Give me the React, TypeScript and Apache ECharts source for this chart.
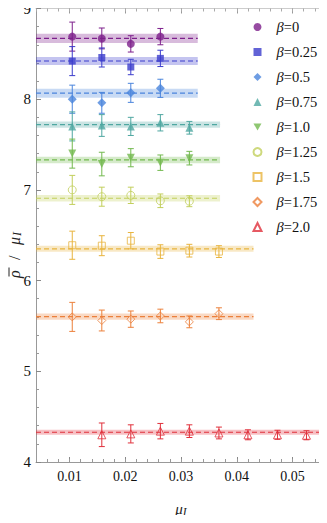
import React, { useEffect, useRef } from "react";
import * as echarts from "echarts";

// x positions (mu_I)
const muI = [0.0105, 0.0158, 0.021, 0.0263, 0.0315, 0.0368, 0.042, 0.0473, 0.0525];

const betaNames = ["β=0", "β=0.25", "β=0.5", "β=0.75", "β=1.0", "β=1.25", "β=1.5", "β=1.75", "β=2.0"];
const colors = ["#7d1f8b", "#3b3ccc", "#4a84dc", "#4fa7a1", "#73b94f", "#c2cf5c", "#e8b43e", "#ec803b", "#e0303b"];

// first mu index of each series
const startIdx = [0, 0, 0, 0, 0, 0, 0, 0, 1];

const rho0 = [8.69, 8.67, 8.61, 8.69];
const err0 = [0.16, 0.115, 0.09, 0.09];
const rho025 = [8.42, 8.46, 8.355, 8.45];
const err025 = [0.16, 0.105, 0.085, 0.09];
const rho05 = [8.0, 7.96, 8.07, 8.12];
const err05 = [0.155, 0.115, 0.105, 0.1];
const rho075 = [7.7, 7.71, 7.7, 7.74, 7.685];
const err075 = [0.16, 0.12, 0.1, 0.09, 0.07];
const rho10 = [7.4, 7.285, 7.355, 7.3, 7.35];
const err10 = [0.16, 0.13, 0.1, 0.085, 0.075];
const rho125 = [7.0, 6.925, 6.94, 6.88, 6.875];
const err125 = [0.16, 0.105, 0.09, 0.075, 0.06];
const rho15 = [6.39, 6.385, 6.44, 6.32, 6.33, 6.32];
const err15 = [0.155, 0.11, 0.09, 0.075, 0.07, 0.065];
const rho175 = [5.6, 5.56, 5.575, 5.61, 5.545, 5.635];
const err175 = [0.16, 0.115, 0.09, 0.075, 0.065, 0.065];
const rho20 = [4.3, 4.31, 4.34, 4.34, 4.32, 4.3, 4.3, 4.295];
const err20 = [0.13, 0.1, 0.085, 0.07, 0.065, 0.055, 0.05, 0.05];

const rhoAll = [rho0, rho025, rho05, rho075, rho10, rho125, rho15, rho175, rho20];
const errAll = [err0, err025, err05, err075, err10, err125, err15, err175, err20];

// fits
const fitValues = [8.671, 8.421, 8.066, 7.72, 7.33, 6.908, 6.35, 5.602, 4.328];
const fitErrors = [0.05, 0.045, 0.05, 0.035, 0.035, 0.035, 0.033, 0.035, 0.027];
const fitEnds = [0.033, 0.033, 0.033, 0.037, 0.037, 0.037, 0.043, 0.043, 0.056];

const xMin = 0.004;
const xMax = 0.056;
const xMajor = [0.01, 0.02, 0.03, 0.04, 0.05];

const symbols = ["circle", "rect", "diamond", "triangle", "path://M0,0 L10,0 L5,9 Z", "circle", "rect", "diamond", "triangle"];
const filled = [true, true, true, true, true, false, false, false, false];
const sizes = [8, 7, 9, 8, 8, 8, 7, 8, 8];

const FONT = "'Liberation Serif', 'Times New Roman', serif";

export default function App() {
  const ref = useRef<HTMLDivElement>(null);
  useEffect(() => {
    if (!ref.current) return;
    const chart = echarts.init(ref.current, undefined, { renderer: "svg" });

    const series: any[] = [];

    // bands + fit lines
    series.push({
      type: "custom",
      name: "fits",
      silent: true,
      z: 1,
      data: fitValues.map((v, i) => [xMin, fitEnds[i], v, fitErrors[i], i]),
      renderItem: (params: any, api: any) => {
        const x0 = api.value(0);
        const x1 = api.value(1);
        const v = api.value(2);
        const w = api.value(3);
        const idx = api.value(4);
        const p1 = api.coord([x0, v + w]);
        const p2 = api.coord([x1, v - w]);
        const pl = api.coord([x0, v]);
        const pr = api.coord([x1, v]);
        return {
          type: "group",
          children: [
            {
              type: "rect",
              shape: { x: p1[0], y: p1[1], width: p2[0] - p1[0], height: p2[1] - p1[1] },
              style: { fill: colors[idx], opacity: 0.3 },
            },
            {
              type: "line",
              shape: { x1: pl[0], y1: pl[1], x2: pr[0], y2: pr[1] },
              style: { stroke: colors[idx], lineWidth: 1.2, lineDash: [5, 3] },
            },
          ],
        };
      },
    });

    rhoAll.forEach((ys, si) => {
      const data = ys.map((y, k) => [muI[startIdx[si] + k], y, errAll[si][k]]);
      series.push({
        type: "custom",
        name: "err" + si,
        silent: true,
        z: 2,
        data,
        renderItem: (params: any, api: any) => {
          const x = api.value(0);
          const y = api.value(1);
          const e = api.value(2);
          const t = api.coord([x, y + e]);
          const b = api.coord([x, y - e]);
          const c = 3;
          const st = { stroke: colors[si], lineWidth: 1 };
          return {
            type: "group",
            children: [
              { type: "line", shape: { x1: t[0], y1: t[1], x2: b[0], y2: b[1] }, style: st },
              { type: "line", shape: { x1: t[0] - c, y1: t[1], x2: t[0] + c, y2: t[1] }, style: st },
              { type: "line", shape: { x1: b[0] - c, y1: b[1], x2: b[0] + c, y2: b[1] }, style: st },
            ],
          };
        },
      });
      series.push({
        type: "scatter",
        name: betaNames[si],
        z: 3,
        symbol: symbols[si],
        symbolSize: sizes[si],
        data: ys.map((y, k) => [muI[startIdx[si] + k], y]),
        itemStyle: filled[si]
          ? { color: colors[si] }
          : { color: "none", borderColor: colors[si], borderWidth: 1 },
      });
    });

    const noSplit = { splitLine: { show: false } };
    const ink = "#222";

    const option: any = {
      animation: false,
      grid: { left: 36, top: 8.5, right: 1, bottom: 46.3, containLabel: false },
      legend: {
        orient: "vertical",
        left: 246,
        top: 14,
        itemWidth: 8,
        itemHeight: 8,
        itemGap: 9,
        data: betaNames,
        formatter: (name: string) => `{b|β}{t|${name.slice(1)}}`,
        textStyle: {
          padding: [0, 0, 0, 10],
          lineHeight: 16,
          rich: {
            b: { fontFamily: FONT, fontStyle: "italic", fontSize: 14.5, lineHeight: 16, color: "#111" },
            t: { fontFamily: FONT, fontSize: 14.5, lineHeight: 16, color: "#111" },
          },
        },
      },
      graphic: [
        {
          type: "group",
          x: 14,
          y: 278,
          rotation: Math.PI / 2,
          silent: true,
          children: [
            { type: "text", x: 0, y: -8, style: { text: "ρ", font: `italic 16px ${FONT}`, fill: ink } },
            { type: "line", shape: { x1: 1.5, y1: -5, x2: 10.5, y2: -5 }, style: { stroke: ink, lineWidth: 1 } },
            { type: "text", x: 18, y: -8, style: { text: "/", font: `16px ${FONT}`, fill: ink } },
            { type: "text", x: 33, y: -8, style: { text: "μ", font: `italic 16px ${FONT}`, fill: ink } },
            { type: "text", x: 42, y: -3, style: { text: "I", font: `italic 12px ${FONT}`, fill: ink } },
          ],
        },
      ],
      xAxis: [
        {
          type: "value",
          min: xMin,
          max: xMax,
          ...noSplit,
          axisLine: { show: true, lineStyle: { color: "#999", width: 1 } },
          axisLabel: {
            fontFamily: FONT,
            fontSize: 14,
            color: "#111",
            margin: 7,
            customValues: xMajor,
            formatter: (v: number) => v.toFixed(2),
          },
          axisTick: {
            show: true,
            inside: true,
            length: 5,
            customValues: xMajor,
            lineStyle: { color: "#888" },
          },
          name: "{m|μ}{s|I}",
          nameLocation: "middle",
          nameGap: 38,
          nameTextStyle: {
            rich: {
              m: { fontFamily: FONT, fontStyle: "italic", fontSize: 15, color: ink },
              s: { fontFamily: FONT, fontStyle: "italic", fontSize: 11.5, color: ink, padding: [6, 0, 0, 0] },
            },
          },
        },
        {
          type: "value",
          position: "bottom",
          min: xMin,
          max: xMax,
          interval: 0.002,
          ...noSplit,
          axisLine: { show: false },
          axisLabel: { show: false },
          axisTick: { show: true, inside: true, length: 3, lineStyle: { color: "#999" } },
        },
        {
          type: "value",
          position: "top",
          min: xMin,
          max: xMax,
          ...noSplit,
          axisLine: { show: true, lineStyle: { color: "#ccc", width: 1 } },
          axisTick: {
            show: true,
            inside: true,
            length: 5,
            customValues: xMajor,
            lineStyle: { color: "#999" },
          },
          axisLabel: { show: false },
        },
        {
          type: "value",
          position: "top",
          min: xMin,
          max: xMax,
          interval: 0.002,
          ...noSplit,
          axisLine: { show: false },
          axisLabel: { show: false },
          axisTick: { show: true, inside: true, length: 3, lineStyle: { color: "#aaa" } },
        },
      ],
      yAxis: [
        {
          type: "value",
          min: 4,
          max: 9,
          interval: 1,
          ...noSplit,
          axisLine: { show: true, lineStyle: { color: "#999", width: 1 } },
          axisTick: { show: true, inside: true, length: 5, lineStyle: { color: "#888" } },
          minorTick: { show: true, splitNumber: 5, length: 3, lineStyle: { color: "#999" } },
          axisLabel: { fontFamily: FONT, fontSize: 15, color: "#111", margin: 5 },
        },
        {
          type: "value",
          position: "right",
          min: 4,
          max: 9,
          interval: 1,
          ...noSplit,
          axisLine: { show: true, lineStyle: { color: "#ccc", width: 1 } },
          axisTick: { show: true, inside: true, length: 5, lineStyle: { color: "#999" } },
          minorTick: { show: true, splitNumber: 5, length: 3, lineStyle: { color: "#aaa" } },
          axisLabel: { show: false },
        },
      ],
      series,
    };

    chart.setOption(option);
    return () => chart.dispose();
  }, []);

  return <div ref={ref} style={{ width: 327, height: 523, margin: -8 }} />;
}
